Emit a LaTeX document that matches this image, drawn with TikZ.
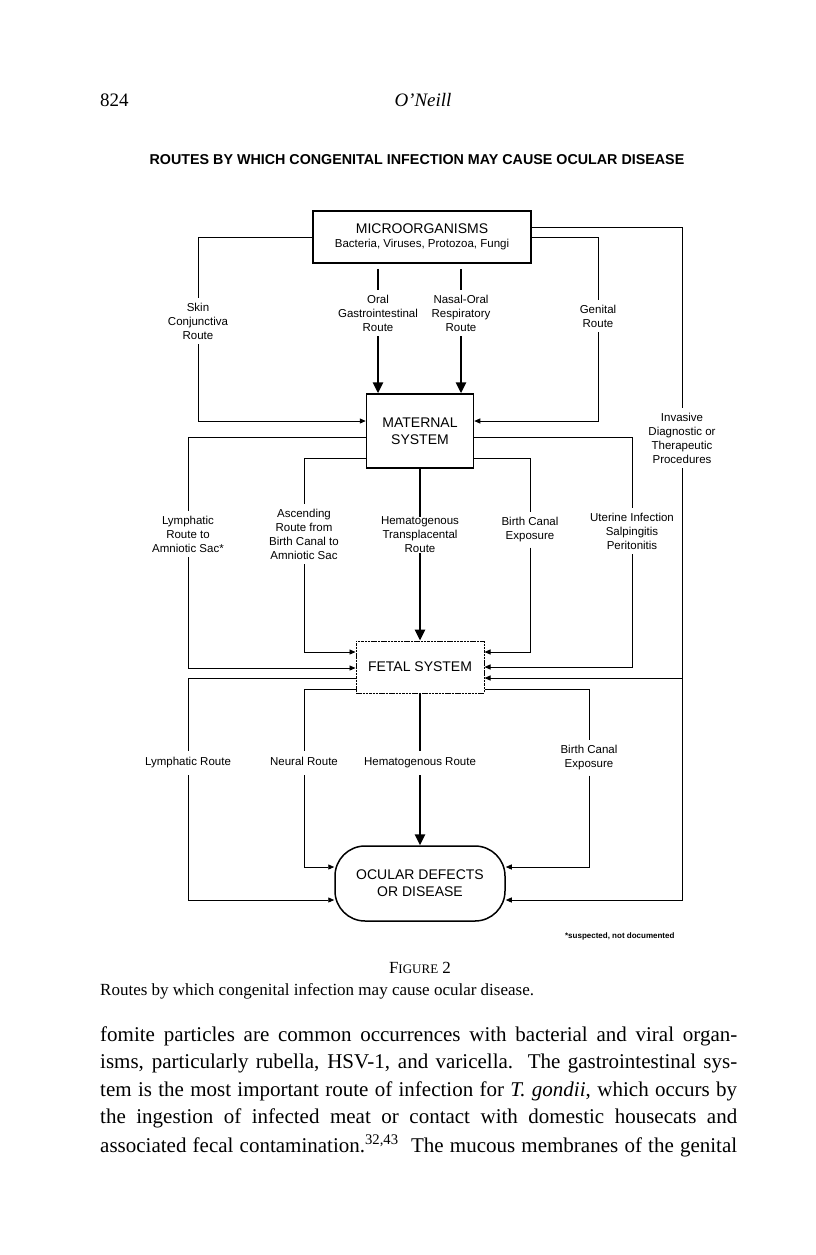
\documentclass[tikz,border=0pt]{standalone}
\usepackage{fontspec}
\setmainfont{Liberation Serif}
\newfontfamily\arial{Liberation Sans}
\usetikzlibrary{arrows.meta}

\begin{document}
\begin{tikzpicture}[x=1pt,y=-1pt,
  box/.style={draw,line width=1.5pt,inner sep=0pt,align=center,
    font=\arial\fontsize{14}{17}\selectfont},
  lbl/.style={align=center,inner xsep=1pt,inner ysep=5pt,
    font=\arial\fontsize{11.5}{14}\selectfont},
  link/.style={line width=0.9pt},
  route/.style={link,-{Triangle[length=6pt,width=5pt]}},
  trunk/.style={line width=2.6pt},
  major/.style={trunk,-{Triangle[length=11pt,width=10pt]}},
  bodyline/.style={anchor=west,inner sep=0pt,font=\fontsize{21}{27}\selectfont}]
  \useasboundingbox (0,0) rectangle (816,1255);

  % page head and figure title
  \node[anchor=west,inner sep=0pt,font=\fontsize{19}{19}\selectfont] (page) at (100,100) {824};
  \node[font=\itshape\fontsize{19}{19}\selectfont] (author) at (423,100) {O’Neill};
  \node[font=\arial\bfseries\fontsize{14.3}{15}\selectfont] (title) at (417,160)
    {ROUTES BY WHICH CONGENITAL INFECTION MAY CAUSE OCULAR DISEASE};

  % systems
  \node[box,minimum width=218pt,minimum height=52pt] (micro) at (422,237)
    {MICROORGANISMS\\[-3pt]{\fontsize{11.5}{14}\selectfont Bacteria, Viruses, Protozoa, Fungi}};
  \node[box,minimum width=107pt,minimum height=74pt] (mat) at (420,431) {MATERNAL\\SYSTEM};
  \node[box,line width=1pt,dash pattern=on 2.5pt off 0.8pt,
    minimum width=128pt,minimum height=52pt] (fet) at (420,667) {FETAL SYSTEM};
  \node[box,rounded corners=30pt,minimum width=170pt,minimum height=75pt] (ocu)
    at (420,883.5) {OCULAR DEFECTS\\OR DISEASE};

  % route labels
  \node[lbl] (skin) at (198,321) {Skin\\Conjunctiva\\Route};
  \node[lbl] (oral) at (378,313) {Oral\\Gastrointestinal\\Route};
  \node[lbl] (nasal) at (461,313) {Nasal-Oral\\Respiratory\\Route};
  \node[lbl] (genital) at (598,316) {Genital\\Route};
  \node[lbl] (invasive) at (682,438) {Invasive\\Diagnostic or\\Therapeutic\\Procedures};
  \node[lbl] (lymamn) at (188,534) {Lymphatic\\Route to\\Amniotic Sac*};
  \node[lbl] (ascend) at (304,534) {Ascending\\Route from\\Birth Canal to\\Amniotic Sac};
  \node[lbl,inner ysep=0pt] (hemtr) at (420,535) {Hematogenous\\Transplacental\\Route};
  \node[lbl] (bcanal) at (530,530) {Birth Canal\\Exposure};
  \node[lbl] (uterine) at (632,531) {Uterine Infection\\Salpingitis\\Peritonitis};
  \node[lbl] (lymph) at (188,763) {\strut Lymphatic Route};
  \node[lbl] (neural) at (304,763) {\strut Neural Route};
  \node[lbl] (hemat) at (420,763) {\strut Hematogenous Route};
  \node[lbl] (bcexp) at (589,758) {Birth Canal\\Exposure};

  % microorganisms -> maternal system
  \draw[link] (micro.west) -| (skin);
  \draw[route] (skin) |- (mat.west |- 0,421);
  \draw[link] (micro.east) -| (genital);
  \draw[route] (genital) |- (mat.east |- 0,421);
  \foreach \r in {oral,nasal}{
    \draw[trunk] ([yshift=-5pt]micro.south -| \r) -- (\r);
    \draw[major] (\r) -- (mat.north -| \r);
  }

  % maternal system -> fetal system
  \draw[link] (mat.west |- 0,437) -| (lymamn);
  \draw[route] (lymamn) |- (fet.west |- 0,668);
  \draw[link] (mat.west |- 0,458) -| (ascend);
  \draw[route] (ascend) |- (fet.west |- 0,652);
  \draw[trunk] (mat.south) -- (hemtr);
  \draw[major] (hemtr) -- (fet.north);
  \draw[link] (mat.east |- 0,458) -| (bcanal);
  \draw[route] (bcanal) |- (fet.east |- 0,652);
  \draw[link] (mat.east |- 0,437) -| (uterine);
  \draw[route] (uterine) |- (fet.east |- 0,667);

  % fetal system -> ocular
  \draw[link] (fet.west |- 0,678) -| (lymph);
  \draw[route] (lymph) |- (ocu.west |- 0,900);
  \draw[link] (fet.west |- 0,689) -| (neural);
  \draw[route] (neural) |- (ocu.west |- 0,867);
  \draw[trunk] (fet.south) -- (hemat);
  \draw[major] (hemat) -- (ocu.north);
  \draw[link] (fet.east |- 0,689) -| (bcexp);
  \draw[route] (bcexp) |- (ocu.east |- 0,867);

  % invasive procedures reach both
  \draw[link] (micro.east |- 0,227) -| (invasive);
  \draw[route] (invasive) |- (ocu.east |- 0,900);
  \draw[route] (invasive |- 0,678) -- (fet.east |- 0,678);

  \node[anchor=east,font=\arial\bfseries\fontsize{8}{8}\selectfont] (note) at (678,936)
    {*suspected, not documented};

  % caption and text
  \node[font=\fontsize{17}{17}\selectfont] (fig) at (420,968)
    {F{\fontsize{13}{13}\selectfont IGURE} 2};
  \node[anchor=west,inner sep=0pt,font=\fontsize{17}{17}\selectfont] (caption) at (100,991)
    {Routes by which congenital infection may cause ocular disease.};
  \foreach \n/\txt in {
    1/{fomite particles are common occurrences with bacterial and viral organ-},
    2/{isms, particularly rubella, HSV-1, and varicella.\ \ The gastrointestinal sys-},
    3/{tem is the most important route of infection for \textit{T. gondii}, which occurs by},
    4/{the ingestion of infected meat or contact with domestic housecats and},
    5/{associated fecal contamination.\textsuperscript{32,43}\ \ The mucous membranes of the genital}}
    \node[bodyline] (body\n) at (100,1008.5+27.5*\n) {\makebox[637pt][s]{\txt}};
\end{tikzpicture}
\end{document}
